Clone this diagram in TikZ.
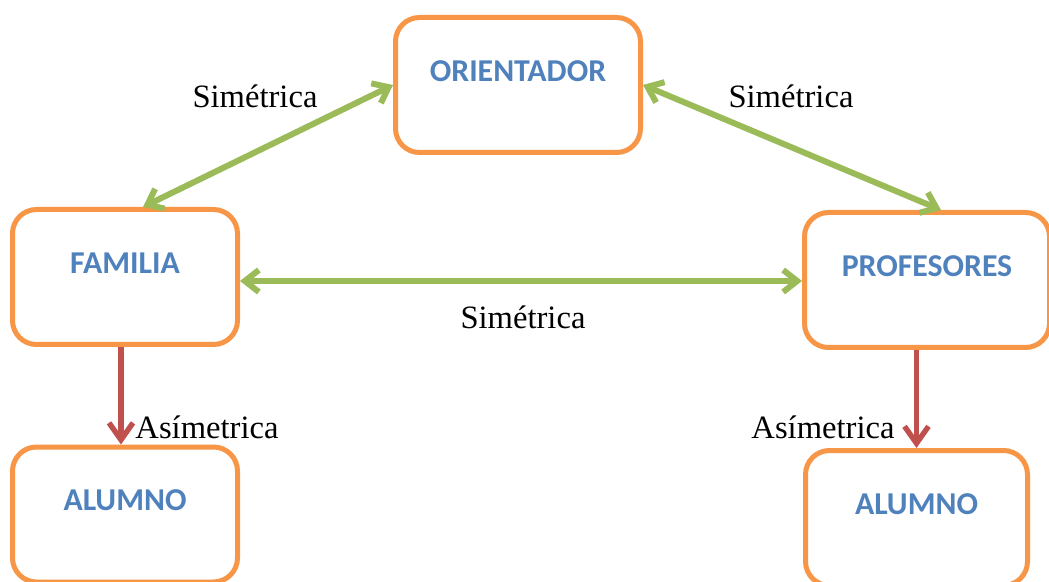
\documentclass[tikz,border=0pt]{standalone}
\usepackage{fontspec}
\setmainfont{Liberation Serif}
\newfontfamily\boxfont{Carlito}
\usetikzlibrary{positioning,arrows.meta}
\definecolor{boxorange}{HTML}{F79646}
\definecolor{boxblue}{HTML}{4F81BD}
\definecolor{symgreen}{HTML}{9BBB59}
\definecolor{asymred}{HTML}{C0504D}
\tikzstyle{box}=[draw=boxorange, line width=2.5pt, rounded corners=12pt, fill=white, text=boxblue, font=\boxfont\bfseries\fontsize{15.9}{18}\selectfont, text height=10.2pt, text depth=14pt, inner sep=0pt, minimum width=112.5pt, minimum height=67.5pt]
\tikzstyle{sym}=[draw=symgreen, line width=3pt, {Straight Barb[length=7pt,width=11pt]}-{Straight Barb[length=7pt,width=11pt]}]
\tikzstyle{asym}=[draw=asymred, line width=2.7pt, -{Straight Barb[length=8.5pt,width=12pt]}]
\tikzstyle{rel}=[font=\fontsize{16.3}{19}\selectfont, inner sep=0pt]

\begin{document}
\begin{tikzpicture}[x=0.5pt, y=-0.5pt]
  \clip (0, 0) rectangle (1049, 582);

  \node [box, minimum width=122.5pt] at (518, 85)    (orientador) {ORIENTADOR};
  \node [box]                        at (125, 277)   (familia)    {FAMILIA};
  \node [box, minimum width=122.5pt] at (927, 280)   (profesores) {PROFESORES};
  \node [box]                        at (125, 514.5) (alumnoi)    {ALUMNO};
  \node [box, minimum width=111pt]   at (916.5, 518) (alumnod)    {ALUMNO};

  \draw [sym] (orientador.west) to ([xshift=9pt]familia.north);
  \draw [sym] (orientador.east) to ([xshift=7pt]profesores.north);
  \draw [sym] ([yshift=-2pt]familia.east) to ([yshift=-2pt]familia.east -| profesores.west);
  \draw [asym] ([xshift=-2pt]familia.south) to ([xshift=-2pt]alumnoi.north);
  \draw [asym] (alumnod.north |- profesores.south) to (alumnod.north);

  \node [rel] at (255, 96)  (sim_fo) {Simétrica};
  \node [rel] at (791, 96)  (sim_op) {Simétrica};
  \node [rel] at (523, 317) (sim_fp) {Simétrica};
  \node [rel] at (207, 427) (asim_f) {Asímetrica};
  \node [rel] at (823, 427) (asim_p) {Asímetrica};
\end{tikzpicture}
\end{document}
